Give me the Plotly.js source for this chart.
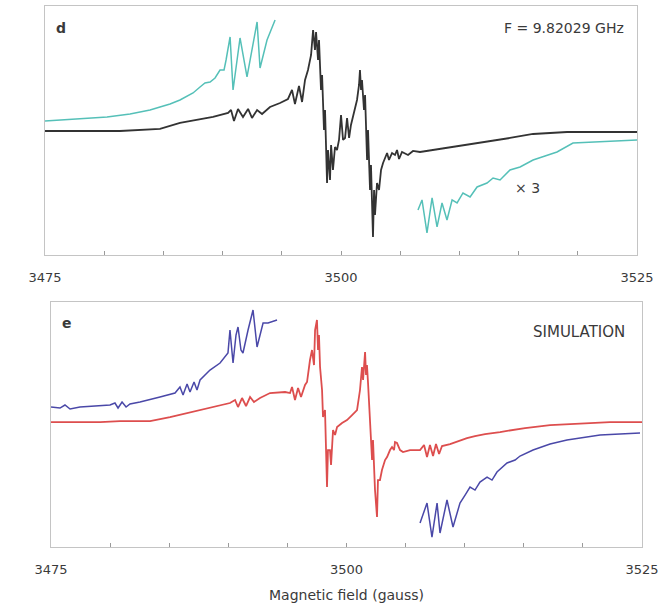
<!DOCTYPE html>
<html>
<head>
<meta charset="utf-8">
<script src="https://cdn.plot.ly/plotly-3.0.1.min.js"></script>
<style>html,body{margin:0;padding:0;background:#fff;}#chart{width:666px;height:611px;}</style>
</head>
<body>
<div id="chart"></div>
<script>
// ---- Panel d: experimental spectrum (field in gauss, derivative signal in arbitrary units)
const expField = [3475.00,3481.33,3484.71,3486.40,3489.19,3490.46,3490.71,3490.96,3491.30,3491.72,3492.15,3492.48,3492.91,3493.33,3494.00,3494.85,3495.52,3495.86,3496.11,3496.45,3496.71,3496.96,3497.21,3497.47,3497.64,3497.80,3497.89,3498.06,3498.14,3498.31,3498.40,3498.56,3498.65,3498.82,3498.90,3499.07,3499.16,3499.32,3499.49,3499.66,3499.83,3500.00,3500.17,3500.34,3500.51,3500.68,3500.84,3501.10,3501.35,3501.52,3501.60,3501.69,3501.77,3501.94,3502.03,3502.20,3502.28,3502.45,3502.53,3502.70,3502.79,3502.87,3503.04,3503.21,3503.38,3503.55,3503.72,3503.89,3504.05,3504.31,3504.56,3504.73,3504.90,3505.15,3505.66,3506.08,3506.67,3507.77,3509.21,3510.64,3512.58,3514.27,3516.22,3519.09,3521.88,3525.00];
const expSignal = [-1,-1,1,7,13,17,20,9,21,13,21,12,20,16,23,27,31,40,26,44,28,50,60,75,100,80,98,70,90,40,55,0,20,-53,-20,-50,-15,-40,-17,-20,-10,15,-10,-8,12,-8,5,18,30,45,60,40,50,20,35,-30,0,-60,-35,-107,-60,-85,-53,-60,-40,-33,-27,-23,-30,-23,-25,-20,-29,-22,-25,-21,-22,-20,-17,-15,-11,-8,-4,-2,-2,-2];

// ×3 expanded wings (experimental)
const expWingLField = [3475.00,3477.96,3480.24,3482.18,3483.02,3483.87,3484.71,3485.56,3486.40,3487.08,3487.50,3488.09,3488.51,3488.94,3489.36,3489.78,3490.12,3490.29,3490.63,3490.88,3491.47,3492.06,3492.91,3493.16,3493.75,3494.43];
const expWingLSignal = [9,11,13,16,18,20,23,26,30,34,37,43,47,48,52,60,60,70,93,40,92,53,108,62,90,110];
const expWingRField = [3506.50,3506.84,3507.26,3507.69,3508.11,3508.53,3508.95,3509.38,3509.80,3510.30,3510.90,3511.49,3512.33,3512.84,3513.43,3514.27,3515.12,3516.22,3517.23,3518.24,3519.59,3521.88,3525.00];
const expWingRSignal = [-80,-70,-103,-68,-97,-73,-90,-70,-73,-63,-67,-57,-53,-48,-50,-40,-37,-30,-26,-22,-13,-12,-10];

// ---- Panel e: simulation
const simField = [3475.00,3479.15,3480.84,3483.38,3485.07,3487.61,3489.30,3490.14,3490.57,3490.82,3491.16,3491.50,3491.84,3492.17,3492.68,3493.53,3494.80,3495.22,3495.39,3495.64,3495.90,3496.15,3496.49,3496.66,3496.91,3497.08,3497.25,3497.34,3497.50,3497.59,3497.67,3497.76,3497.93,3498.01,3498.18,3498.35,3498.43,3498.60,3498.69,3498.86,3499.03,3499.20,3499.62,3500.04,3500.47,3500.89,3501.14,3501.31,3501.40,3501.57,3501.65,3501.73,3501.82,3501.99,3502.16,3502.24,3502.41,3502.58,3502.66,3502.83,3503.00,3503.26,3503.43,3503.68,3503.85,3504.02,3504.10,3504.27,3504.53,3504.78,3505.37,3506.22,3506.56,3506.81,3507.06,3507.32,3507.57,3507.83,3508.08,3508.76,3510.19,3510.87,3511.72,3512.99,3515.10,3517.22,3520.01,3522.29,3525.00];
const simSignal = [-2,-2,-1,-1,3,10,14,17,20,13,22,14,23,18,22,27,28,27,33,20,32,23,35,38,60,70,55,90,100,70,85,53,30,3,10,-67,-30,-30,-45,-10,-15,-7,-3,0,5,10,30,53,40,68,45,55,37,0,-40,-20,-70,-97,-60,-60,-50,-40,-37,-30,-27,-30,-22,-23,-30,-32,-30,-30,-25,-37,-25,-36,-24,-34,-26,-24,-18,-16,-14,-12,-8,-5,-3,-2,-2];

const simWingLField = [3475.00,3475.76,3476.18,3476.61,3477.45,3479.99,3480.41,3480.67,3481.01,3481.35,3481.68,3482.53,3484.22,3485.49,3485.91,3486.17,3486.51,3486.76,3487.10,3487.35,3487.61,3488.45,3489.30,3489.97,3490.14,3490.40,3490.65,3490.82,3491.07,3491.24,3491.67,3492.09,3492.43,3492.68,3492.94,3493.36,3494.12];
const simWingLSignal = [13,12,15,11,13,15,17,12,18,13,16,18,23,27,33,25,36,28,38,30,40,50,57,67,90,57,85,93,70,67,90,110,73,85,97,97,100];
const simWingRField = [3506.22,3506.81,3507.23,3507.66,3507.91,3508.50,3509.01,3509.60,3510.03,3510.45,3510.87,3511.29,3511.89,3512.31,3512.73,3513.58,3514.26,3514.68,3515.78,3517.22,3518.65,3520.18,3521.45,3523.14,3524.83];
const simWingRSignal = [-103,-83,-117,-83,-113,-80,-107,-83,-75,-67,-70,-62,-57,-60,-52,-43,-40,-36,-30,-24,-20,-17,-15,-14,-13];

const tickVals = [3475,3480,3485,3490,3495,3500,3505,3510,3515,3520,3525];
const tickText = ['3475','','','','','3500','','','','','3525'];

const FONT = '"DejaVu Sans", "Open Sans", sans-serif';
const TXT = '#3a3a3a';

const traces = [
  {x: expWingLField, y: expWingLSignal, xaxis:'x', yaxis:'y', mode:'lines', line:{color:'#55c0b8', width:1.5}},
  {x: expWingRField, y: expWingRSignal, xaxis:'x', yaxis:'y', mode:'lines', line:{color:'#55c0b8', width:1.5}},
  {x: expField, y: expSignal, xaxis:'x', yaxis:'y', mode:'lines', line:{color:'#333333', width:1.8}},
  {x: simWingLField, y: simWingLSignal, xaxis:'x2', yaxis:'y2', mode:'lines', line:{color:'#4a48a8', width:1.5}},
  {x: simWingRField, y: simWingRSignal, xaxis:'x2', yaxis:'y2', mode:'lines', line:{color:'#4a48a8', width:1.5}},
  {x: simField, y: simSignal, xaxis:'x2', yaxis:'y2', mode:'lines', line:{color:'#dd4e4e', width:1.8}}
];

function xax(domain, anchor){
  return {domain: domain, anchor: anchor, range:[3475,3525], tickmode:'array', tickvals: tickVals, ticktext: tickText,
    ticks:'inside', ticklen:4, tickcolor:'#9a9a9a', showline:true, mirror:true, linecolor:'#c4c4c4', linewidth:1.2,
    showgrid:false, zeroline:false, tickfont:{family:FONT, size:13, color:TXT}, ticklabelstandoff:10, fixedrange:true};
}
function yax(domain, anchor, range){
  return {domain: domain, anchor: anchor, range: range, showticklabels:false, ticks:'', showline:true, mirror:true,
    linecolor:'#c4c4c4', linewidth:1.2, showgrid:false, zeroline:false, fixedrange:true};
}

const xa2 = xax([0.0766, 0.9640], 'y2');
xa2.title = {text:'Magnetic field (gauss)', font:{family:FONT, size:14, color:TXT}, standoff:14};

const layout = {
  width:666, height:611,
  margin:{l:0, r:0, t:0, b:0},
  paper_bgcolor:'#ffffff', plot_bgcolor:'#ffffff',
  showlegend:false,
  xaxis: xax([0.0676, 0.9565], 'y'),
  yaxis: yax([0.5827, 0.9902], 'x', [-125, 124]),
  xaxis2: xa2,
  yaxis2: yax([0.1047, 0.5057], 'x2', [-127, 118]),
  annotations: [
    {xref:'paper', yref:'paper', x:61/666, y:1-28/611, text:'<b>d</b>', showarrow:false, xanchor:'center', yanchor:'middle', font:{family:FONT, size:14, color:TXT}},
    {xref:'paper', yref:'paper', x:626/666, y:1-28/611, text:'F = 9.82029 GHz', showarrow:false, xanchor:'right', yanchor:'middle', font:{family:FONT, size:14, color:TXT}},
    {xref:'paper', yref:'paper', x:527/666, y:1-188/611, text:'× 3', showarrow:false, xanchor:'center', yanchor:'middle', font:{family:FONT, size:14, color:TXT}},
    {xref:'paper', yref:'paper', x:67/666, y:1-323/611, text:'<b>e</b>', showarrow:false, xanchor:'center', yanchor:'middle', font:{family:FONT, size:14, color:TXT}},
    {xref:'paper', yref:'paper', x:627/666, y:1-332/611, text:'SIMULATION', showarrow:false, xanchor:'right', yanchor:'middle', font:{family:FONT, size:15, color:TXT}}
  ]
};

Plotly.newPlot('chart', traces, layout, {displayModeBar:false, staticPlot:true});
</script>
</body>
</html>
